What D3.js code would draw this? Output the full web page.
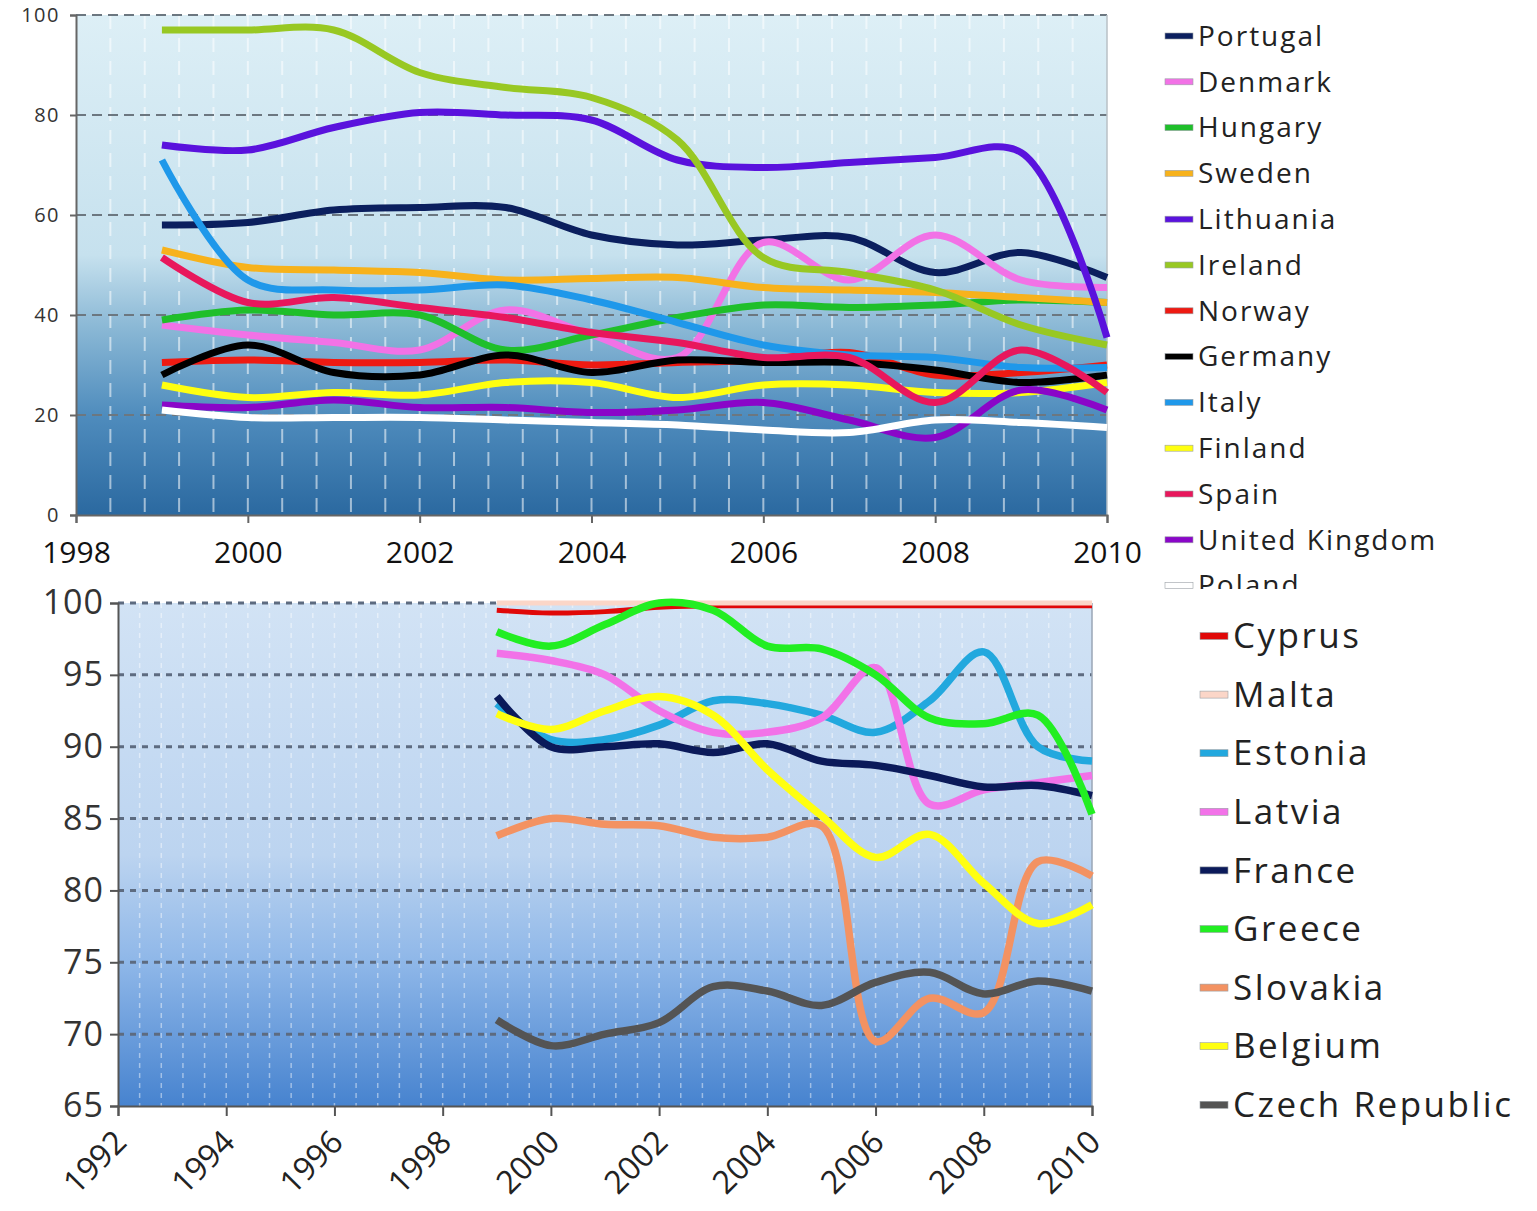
<!DOCTYPE html>
<html>
<head>
<meta charset="utf-8">
<script src="https://cdn.jsdelivr.net/npm/d3@7"></script>
<style>
  body { margin: 0; background: #fff; }
  svg { display: block; font-family: "Open Sans", sans-serif; }
</style>
</head>
<body>
<div id="app"></div>
<script>
// ---- top chart data ----
let topYears = d3.range(1999, 2011)
let topNames = ["Portugal", "Denmark", "Hungary", "Sweden", "Lithuania", "Ireland", "Norway",
    "Germany", "Italy", "Finland", "Spain", "United Kingdom", "Poland"]
let topColors = ["#0b1f5e", "#f272e6", "#1fbf2a", "#f7b21c", "#5a12dd", "#98c823", "#ee1a12",
    "#000000", "#1f98ea", "#ffff10", "#e8175c", "#8a06c8", "#ffffff"]
let portugal = [58, 58.5, 61, 61.5, 61.5, 56, 54, 55, 55.5, 48.5, 52.5, 47.5]
let denmark = [38, 36, 34.5, 33, 41, 36, 31.5, 54.5, 47, 56, 47, 45.5]
let hungary = [39, 41, 40, 40, 33, 36, 39.5, 42, 41.5, 42, 43, 42.5]
let sweden = [53, 49.5, 49, 48.5, 47, 47.3, 47.5, 45.5, 45, 44.5, 43.5, 42.5]
let lithuania = [74, 73, 77.5, 80.5, 80, 79, 71, 69.5, 70.5, 71.5, 72.5, 35.5]
let ireland = [97, 97, 97, 88.5, 85.5, 83.5, 75, 51.5, 48.5, 45, 38, 34]
let norway = [30.5, 31, 30.5, 30.5, 31, 30, 30.5, 31, 32.5, 28, 28.5, 30]
let germany = [28, 34, 28.5, 28, 32, 28.5, 31, 30.5, 30.5, 29, 26.5, 28]
let italy = [71, 47, 45, 45, 46, 43, 38.5, 34, 32, 31.5, 29.5, 29.5]
let finland = [26, 23.5, 24.5, 24, 26.5, 26.5, 23.5, 26, 26, 24.5, 24.5, 26.5]
let spain = [51.5, 42.5, 43.5, 41.5, 39.5, 36.5, 34.5, 31.5, 31.5, 22.5, 33, 24.5]
let uk = [22, 21.5, 23, 21.5, 21.5, 20.5, 21, 22.5, 19, 15.5, 25, 21]
let poland = [21, 19.5, 19.5, 19.5, 19, 18.5, 18, 17, 16.5, 19, 18.5, 17.5]
let topSeries = [portugal, denmark, hungary, sweden, lithuania, ireland, norway,
    germany, italy, finland, spain, uk, poland]
let topYTicks = [0, 20, 40, 60, 80, 100]
let topXTicks = [1998, 2000, 2002, 2004, 2006, 2008, 2010]

// ---- bottom chart data ----
let botYears = d3.range(1999, 2011)
let botNames = ["Cyprus", "Malta", "Estonia", "Latvia", "France", "Greece", "Slovakia", "Belgium", "Czech Republic"]
let botColors = ["#e00808", "#fbd6c8", "#22a8de", "#f272e8", "#0b1a5a", "#22ee22", "#f39262", "#ffff10", "#545454"]
let cyprus = [99.5, 99.3, 99.4, 99.7, 99.8, 99.8, 99.8, 99.8, 99.8, 99.8, 99.8, 99.8]
let malta = [100, 100, 100, 100, 100, 100, 100, 100, 100, 100, 100, 100]
let estonia = [93, 90.5, 90.5, 91.5, 93.2, 93, 92.2, 91, 93.2, 96.6, 90, 89]
let latvia = [96.5, 96, 95, 92.5, 91, 91, 92, 95.5, 86, 87, 87.5, 88]
let france = [93.5, 90, 90, 90.2, 89.6, 90.2, 89, 88.7, 88, 87.2, 87.3, 86.6]
let greece = [98, 97, 98.5, 100, 99.5, 97, 96.8, 95, 92, 91.6, 92.2, 85.3]
let slovakia = [83.8, 85, 84.6, 84.5, 83.7, 83.7, 84.5, 69.5, 72.5, 71.5, 82, 81]
let belgium = [92.3, 91.2, 92.5, 93.5, 92.2, 88.4, 85.2, 82.3, 83.9, 80.5, 77.7, 79]
let czech = [71, 69.2, 70, 70.8, 73.3, 73, 72, 73.6, 74.3, 72.8, 73.7, 73]
let botSeries = [cyprus, malta, estonia, latvia, france, greece, slovakia, belgium, czech]
let botYTicks = [65, 70, 75, 80, 85, 90, 95, 100]
let botXTicks = [1992, 1994, 1996, 1998, 2000, 2002, 2004, 2006, 2008, 2010]

let svg = d3.select("#app").append("svg")
    .attr("width", 1537)
    .attr("height", 1211)

let defs = svg.append("defs")

let g1 = defs.append("linearGradient").attr("id", "bgTop")
    .attr("x1", 0).attr("y1", 0).attr("x2", 0).attr("y2", 1)
g1.append("stop").attr("offset", "0").attr("stop-color", "#ddeff6")
g1.append("stop").attr("offset", "0.48").attr("stop-color", "#c6e1ee")
g1.append("stop").attr("offset", "0.62").attr("stop-color", "#8cb9d6")
g1.append("stop").attr("offset", "0.8").attr("stop-color", "#4f8cbd")
g1.append("stop").attr("offset", "1").attr("stop-color", "#2b69a0")

let g2 = defs.append("linearGradient").attr("id", "bgBot")
    .attr("x1", 0).attr("y1", 0).attr("x2", 0).attr("y2", 1)
g2.append("stop").attr("offset", "0").attr("stop-color", "#d2e3f5")
g2.append("stop").attr("offset", "0.5").attr("stop-color", "#bcd4f0")
g2.append("stop").attr("offset", "0.72").attr("stop-color", "#8db6e8")
g2.append("stop").attr("offset", "1").attr("stop-color", "#4783cf")

defs.append("clipPath").attr("id", "legClip")
    .append("rect").attr("x", 1140).attr("y", 0).attr("width", 397).attr("height", 589)

// ================= TOP CHART =================
let x1 = d3.scaleLinear().domain([1998, 2010]).range([76, 1107])
let y1 = d3.scaleLinear().domain([0, 100]).range([515, 15])

let topG = svg.append("g")

topG.append("rect")
    .attr("x", x1(1998)).attr("y", y1(100))
    .attr("width", x1(2010) - x1(1998)).attr("height", y1(0) - y1(100))
    .attr("fill", "url(#bgTop)")

// minor vertical dashes
topG.append("g").selectAll("line")
    .data(d3.range(1, 30).map(i => 1998 + i * 0.4))
    .enter().append("line")
    .attr("x1", d => x1(d)).attr("x2", d => x1(d))
    .attr("y1", y1(100)).attr("y2", y1(0))
    .attr("stroke", "#ffffff").attr("stroke-opacity", 0.55)
    .attr("stroke-width", 2).attr("stroke-dasharray", "14,9")

// horizontal grid
topG.append("g").selectAll("line")
    .data(topYTicks.filter(d => d > 0))
    .enter().append("line")
    .attr("x1", x1(1998)).attr("x2", x1(2010))
    .attr("y1", d => y1(d)).attr("y2", d => y1(d))
    .attr("stroke", "#6c7780").attr("stroke-width", 2).attr("stroke-dasharray", "10,6")

topG.append("line")
    .attr("x1", x1(2010)).attr("x2", x1(2010)).attr("y1", y1(100)).attr("y2", y1(0))
    .attr("stroke", "#b8c0c6").attr("stroke-width", 1.5)

let line1 = d3.line()
    .x((d, i) => x1(topYears[i]))
    .y(d => y1(d))
    .curve(d3.curveCatmullRom.alpha(0.5))

topG.append("g").selectAll("path")
    .data(topSeries)
    .enter().append("path")
    .attr("d", line1)
    .attr("fill", "none")
    .attr("stroke", (d, i) => topColors[i])
    .attr("stroke-width", 7)
    .attr("stroke-linejoin", "round")

let yAxis1 = topG.append("g")
    .attr("transform", `translate(${x1(1998)},0)`)
    .call(d3.axisLeft(y1).tickValues(topYTicks).tickSize(6).tickPadding(10))
yAxis1.select(".domain").attr("stroke", "#666").attr("stroke-width", 2)
yAxis1.selectAll(".tick line").attr("stroke", "#666").attr("stroke-width", 2)
yAxis1.selectAll("text").attr("font-size", 20).attr("fill", "#333")
    .attr("letter-spacing", 1.5).attr("font-family", "Open Sans")

let xAxis1 = topG.append("g")
    .attr("transform", `translate(0,${y1(0)})`)
    .call(d3.axisBottom(x1).tickValues(topXTicks).tickFormat(d3.format("d")).tickSize(8).tickPadding(25))
xAxis1.select(".domain").attr("stroke", "#666").attr("stroke-width", 2)
xAxis1.selectAll(".tick line").attr("stroke", "#666").attr("stroke-width", 2)
xAxis1.selectAll("text").attr("font-size", 30).attr("fill", "#111")
    .attr("font-family", "Open Sans").attr("dy", "0.5em")

// legend (clipped like the original)
let leg1 = svg.append("g").attr("clip-path", "url(#legClip)")
let item1 = leg1.selectAll("g")
    .data(topNames)
    .enter().append("g")
    .attr("transform", (d, i) => `translate(1165,${36 + i * 45.8})`)
item1.append("rect")
    .attr("x", 0).attr("y", -3).attr("width", 28).attr("height", 6)
    .attr("fill", (d, i) => topColors[i])
    .attr("stroke", "#9aa0a6").attr("stroke-width", 0.6)
item1.append("text")
    .attr("x", 33).attr("dy", "0.35em")
    .attr("font-size", 28).attr("letter-spacing", 2).attr("fill", "#222")
    .text(d => d)

// ================= BOTTOM CHART =================
let x2 = d3.scaleLinear().domain([1992, 2010]).range([118, 1092])
let y2 = d3.scaleLinear().domain([65, 100]).range([1106, 603])

let botG = svg.append("g")

botG.append("rect")
    .attr("x", x2(1992)).attr("y", y2(100))
    .attr("width", x2(2010) - x2(1992)).attr("height", y2(65) - y2(100))
    .attr("fill", "url(#bgBot)")

botG.append("g").selectAll("line")
    .data(d3.range(1, 45).map(i => 1992 + i * 0.4))
    .enter().append("line")
    .attr("x1", d => x2(d)).attr("x2", d => x2(d))
    .attr("y1", y2(100)).attr("y2", y2(65))
    .attr("stroke", "#ffffff").attr("stroke-opacity", 0.45)
    .attr("stroke-width", 1.5).attr("stroke-dasharray", "5,5")

botG.append("g").selectAll("line")
    .data(botYTicks.filter(d => d > 65))
    .enter().append("line")
    .attr("x1", x2(1992)).attr("x2", x2(2010))
    .attr("y1", d => y2(d)).attr("y2", d => y2(d))
    .attr("stroke", "#5d6b80").attr("stroke-width", 3).attr("stroke-dasharray", "6,6")

botG.append("line")
    .attr("x1", x2(2010)).attr("x2", x2(2010)).attr("y1", y2(100)).attr("y2", y2(65))
    .attr("stroke", "#9aa6b6").attr("stroke-width", 1.5)

let line2 = d3.line()
    .x((d, i) => x2(botYears[i]))
    .y(d => y2(d))
    .curve(d3.curveCatmullRom.alpha(0.5))

botG.append("g").selectAll("path")
    .data(botSeries)
    .enter().append("path")
    .attr("d", line2)
    .attr("fill", "none")
    .attr("stroke", (d, i) => botColors[i])
    .attr("stroke-width", (d, i) => i < 2 ? 5 : 7.5)
    .attr("stroke-linejoin", "round")

let yAxis2 = botG.append("g")
    .attr("transform", `translate(${x2(1992)},0)`)
    .call(d3.axisLeft(y2).tickValues(botYTicks).tickSize(8).tickPadding(6))
yAxis2.select(".domain").attr("stroke", "#555").attr("stroke-width", 2)
yAxis2.selectAll(".tick line").attr("stroke", "#555").attr("stroke-width", 2)
yAxis2.selectAll("text").attr("font-size", 34).attr("fill", "#333")
    .attr("letter-spacing", 1).attr("font-family", "Open Sans")

let xAxis2 = botG.append("g")
    .attr("transform", `translate(0,${y2(65)})`)
    .call(d3.axisBottom(x2).tickValues(botXTicks).tickFormat(d3.format("d")).tickSize(10))
xAxis2.select(".domain").attr("stroke", "#555").attr("stroke-width", 2)
xAxis2.selectAll(".tick line").attr("stroke", "#555").attr("stroke-width", 2)
xAxis2.selectAll("text")
    .attr("font-size", 32).attr("fill", "#222").attr("font-family", "Open Sans")
    .attr("text-anchor", "end").attr("dy", 0).attr("y", 0)
    .attr("transform", "translate(10,38) rotate(-45)")

let leg2 = svg.append("g")
let item2 = leg2.selectAll("g")
    .data(botNames)
    .enter().append("g")
    .attr("transform", (d, i) => `translate(1200,${636 + i * 58.6})`)
item2.append("rect")
    .attr("x", 0).attr("y", -3.5).attr("width", 28).attr("height", 7)
    .attr("fill", (d, i) => botColors[i])
    .attr("stroke", "#9aa0a6").attr("stroke-width", 0.6)
item2.append("text")
    .attr("x", 33).attr("dy", "0.35em")
    .attr("font-size", 35).attr("letter-spacing", 2.5).attr("fill", "#222")
    .text(d => d)
</script>
</body>
</html>
